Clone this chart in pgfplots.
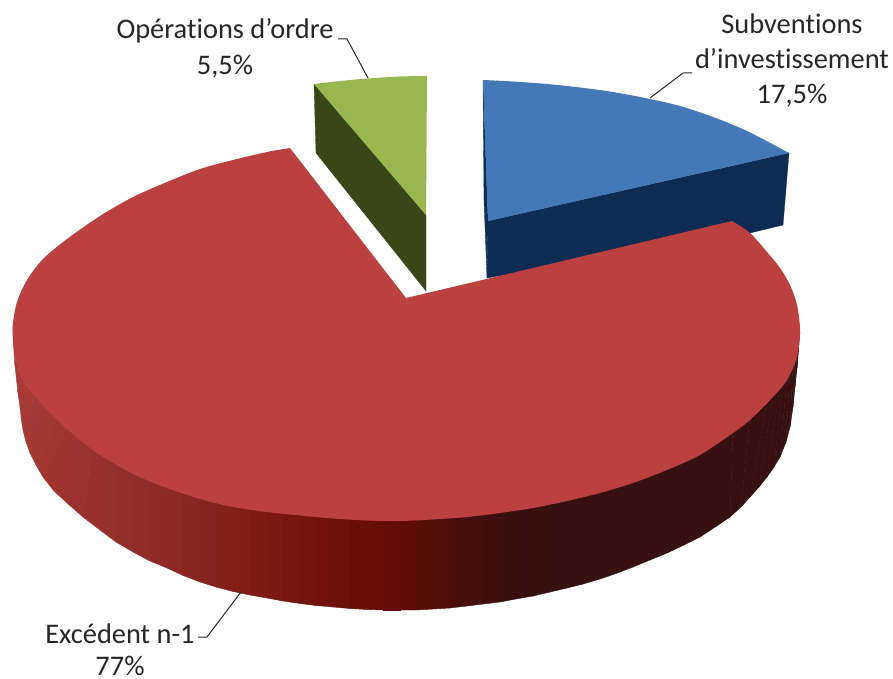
\documentclass[border=0pt]{standalone}
\usepackage{pgfplots}
\pgfplotsset{compat=1.18}
\usepackage{fontspec}
\setmainfont[Ligatures=NoCommon]{Carlito}
\definecolor{rtop}{RGB}{187,65,64}
\definecolor{btop}{RGB}{68,120,182}
\definecolor{bdark}{RGB}{13,44,84}
\definecolor{gtop}{RGB}{152,183,78}
\definecolor{gdark}{RGB}{59,70,24}
\definecolor{txt}{RGB}{38,38,38}
\begin{document}
\begin{tikzpicture}
\begin{axis}[
  width=893pt, height=679pt, scale only axis,
  xmin=0, xmax=893, ymin=0, ymax=679, y dir=reverse,
  hide axis, clip=false,
  colormap={sidemap}{
    rgb255=(170,60,56);
    rgb255=(158,52,47);
    rgb255=(149,48,42);
    rgb255=(141,43,36);
    rgb255=(133,36,28);
    rgb255=(125,27,19);
    rgb255=(116,20,12);
    rgb255=(106,15,7);
    rgb255=(97,12,6);
    rgb255=(74,14,10);
    rgb255=(58,16,14);
    rgb255=(55,17,16);
    rgb255=(54,17,16);
    rgb255=(54,17,16);
    rgb255=(54,17,16);
    rgb255=(54,17,16);
    rgb255=(54,17,16)
  },
  point meta min=13, point meta max=800,
]
\path (axis cs:0,0) rectangle (axis cs:893,679);
% blue slice
\addplot[draw=bdark, fill=bdark, line width=0.3pt] coordinates {
 (789,153) (783,225) (750,233) (487,278) (488,221)} -- cycle;
\addplot[draw=bdark, fill=bdark, line width=0.3pt] coordinates {
 (483,80) (488,221) (487,278) (484,200)} -- cycle;
\addplot[draw=none, fill=btop, smooth] coordinates {
 (483,80) (513,81.5) (547,84) (580,87.5) (613,92) (650,99) (680,106) (713,117) (747,131) (789,153)} -- (axis cs:488,221) -- cycle;
% green slice
\addplot[draw=gdark, fill=gdark, line width=0.3pt] coordinates {
 (314,84) (316,153) (426,291) (426,215)} -- cycle;
\addplot[draw=none, fill=gtop, smooth] coordinates {
 (314,84) (340,81) (368,78.5) (400,76.5) (427,76)} -- (axis cs:426,215) -- cycle;
% red side, banded
\addplot[surf, shader=flat, mesh/rows=2, point meta=x] table {
x y
16 323
16 335
16 345
18 352
20 360
24 368
28 375
32 381
37 388
41 400
50 409
58 418
67 426
76 433
85 440
92 446
100 451
116 461
133 471
150 478
167 484
183 490
200 495
216 499
233 503
250 506
267 508
283 510
300 511
316 513
333 514
350 515
367 516
383 517
400 517
416 516
433 515
450 514
467 513
483 512
500 510
516 507
533 504
550 501
567 497
583 493
600 489
616 484
633 478
650 472
667 466
683 459
700 451
716 441
733 429
750 416
767 400
773 394
780 386
783 382
787 377
790 370
793 363
795 357
797 351
799 342
800 332
13 323
13.3 338
14 352
14.8 364
16 375
17.7 391
20 407
21.2 419
23 430
26 442
30 453
36 465
43 477
54 491
67 503
83 517
100 530
116 542
133 552
150 561
167 568
183 575.5
200 582
216 587
233 591.5
250 595
267 598
283 601
300 603.5
316 605.5
333 607
350 608.5
367 609.5
383 610
400 610
416 610
433 609
450 608
467 606
483 604
500 602
516 599
533 596
550 592
567 588
583 584
600 579
616 573.5
633 567
650 560
667 553
683 545.5
700 537
716 526.5
730 517
741 507
750 497
759 487
767 477
774 467
780 457
786 442
790 427
793 407
795 387
797 368
798 350
};
% red top
\addplot[draw=none, fill=rtop, smooth] coordinates {
 (290,148) (267,152) (233,160) (200,169) (167,182) (133,197) (100,216) (67,239) (43,259) (27,280) (17,302) (13,323)
 (13,340) (16,363) (24,382) (33,394) (50,413) (67,429) (85,444) (100,455) (133,474) (167,488) (200,499) (233,507) (267,512)
 (300,515.5) (333,518.5) (367,520.5) (400,521) (433,519.5) (467,517) (500,513) (533,508) (567,501) (600,493) (633,483) (667,470)
 (700,455) (733,433) (750,420) (773,397) (787,380) (797,357) (800,330) (797,305) (790,285) (780,268) (767,252) (750,233) (732,221)} -- (axis cs:406,298) -- cycle;
% leader lines
\addplot[draw=txt, line width=1pt] coordinates {(338,39) (347,39) (368,78)};
\addplot[draw=txt, line width=1pt] coordinates {(692,73) (683,73) (650,98)};
\addplot[draw=txt, line width=1pt] coordinates {(198,637) (207,637) (241,592)};
% labels
\tikzset{lab/.style={text=txt, font=\fontsize{28.4}{32}\selectfont, anchor=base, inner sep=0pt}}
\node[lab] at (axis cs:792,33.5) {Subventions};
\node[lab] at (axis cs:792,69) {d’investissement};
\node[lab] at (axis cs:792,104) {17,5\%};
\node[lab] at (axis cs:225,39) {Opérations d’ordre};
\node[lab] at (axis cs:225,74.5) {5,5\%};
\node[lab] at (axis cs:120,643) {Excédent n-1};
\node[lab] at (axis cs:120,675) {77\%};
\end{axis}
\end{tikzpicture}
\end{document}
